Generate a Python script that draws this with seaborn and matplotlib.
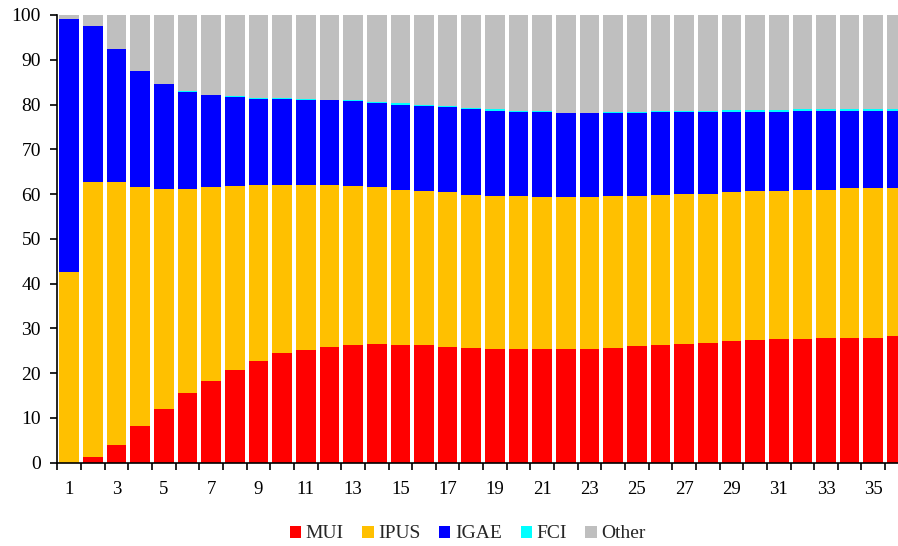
import matplotlib
matplotlib.use("Agg")
import matplotlib.pyplot as plt
from matplotlib.patches import Patch
import seaborn as sns
import pandas as pd

periods = list(range(1, 37))
MUI = [0.0, 1.2, 4.0, 8.1, 11.9, 15.5, 18.3, 20.8, 22.7, 24.4, 25.2, 25.9, 26.2, 26.5, 26.2, 26.2,
       25.9, 25.7, 25.4, 25.4, 25.4, 25.4, 25.4, 25.7, 26.0, 26.2, 26.5, 26.8, 27.1, 27.4, 27.7, 27.7,
       27.9, 27.9, 27.9, 28.2]
IPUS = [42.5, 61.6, 58.8, 53.4, 49.3, 45.7, 43.2, 40.9, 39.3, 37.6, 36.8, 36.1, 35.5, 35.0, 34.8, 34.5,
        34.5, 34.1, 34.2, 34.2, 33.9, 33.9, 33.9, 33.8, 33.6, 33.6, 33.6, 33.3, 33.3, 33.3, 33.0, 33.3,
        33.1, 33.4, 33.4, 33.1]
IGAE = [56.7, 34.8, 29.5, 25.9, 23.4, 21.7, 20.6, 19.9, 19.3, 19.3, 19.1, 18.9, 19.0, 18.9, 19.0, 18.9,
        19.0, 19.3, 19.0, 18.7, 19.0, 18.7, 18.7, 18.6, 18.5, 18.5, 18.2, 18.2, 18.0, 17.7, 17.7, 17.6,
        17.6, 17.3, 17.3, 17.3]
FCI = [0.0, 0.0, 0.0, 0.0, 0.0, 0.05, 0.1, 0.2, 0.2, 0.15, 0.15, 0.2, 0.2, 0.1, 0.3, 0.2,
       0.2, 0.1, 0.3, 0.3, 0.2, 0.2, 0.2, 0.2, 0.2, 0.3, 0.3, 0.3, 0.4, 0.4, 0.4, 0.45,
       0.45, 0.45, 0.45, 0.45]
Other = [0.8, 2.4, 7.7, 12.6, 15.4, 17.0, 17.8, 18.2, 18.5, 18.5, 18.7, 18.9, 19.1, 19.5, 19.7, 20.2,
         20.4, 20.8, 21.1, 21.4, 21.5, 21.8, 21.8, 21.7, 21.7, 21.4, 21.4, 21.4, 21.2, 21.2, 21.2, 21.0,
         21.0, 21.0, 21.0, 21.0]
x_tick_labels = [str(p) for p in range(1, 37, 2)]

series_names = ["MUI", "IPUS", "IGAE", "FCI", "Other"]
series_values = [MUI, IPUS, IGAE, FCI, Other]
colors = ["#FF0000", "#FFC000", "#0000FF", "#00FFFF", "#BFBFBF"]

rows = []
for name, vals in zip(series_names, series_values):
    for p, v in zip(periods, vals):
        rows.append({"period": p, "series": name, "value": v})
df = pd.DataFrame(rows)

sns.set_theme(style="white")
plt.rcParams["font.family"] = ["Liberation Serif", "DejaVu Serif"]

fig = plt.figure(figsize=(8.98, 5.46), dpi=100)
ax = fig.add_axes([0.064, 0.1526, 1.012 - 0.064, 0.82])

# seaborn stacks the first hue level on top, so pass the order reversed
sns.histplot(data=df, x="period", weights="value", hue="series",
             hue_order=series_names[::-1], palette=colors[::-1], multiple="stack",
             discrete=True, shrink=0.83, alpha=1, linewidth=0, legend=False, ax=ax)

ax.set_xlim(0.5, 36.5)
ax.set_ylim(0, 100)
ax.set_yticks(range(0, 101, 10))
ax.set_xticks(list(range(1, 37, 2)))
ax.set_xticklabels(x_tick_labels)
ax.set_xticks([p + 0.5 for p in range(0, 37)], minor=True)
ax.tick_params(axis="x", which="major", length=0, pad=13, labelsize=13.5, colors="black")
ax.tick_params(axis="x", which="minor", length=5, width=1.2, direction="out", color="black", bottom=True)
ax.tick_params(axis="y", which="major", length=5, width=1.2, direction="out", labelsize=14,
               colors="black", left=True, pad=7)
ax.set_xlabel("")
ax.set_ylabel("")
for s in ["top", "right"]:
    ax.spines[s].set_visible(False)
for s in ["left", "bottom"]:
    ax.spines[s].set_color("black")
    ax.spines[s].set_linewidth(1.2)

handles = [Patch(facecolor=c, edgecolor="none", label=n) for n, c in zip(series_names, colors)]
fig.legend(handles=handles, loc="center", bbox_to_anchor=(0.521, 0.022), ncol=5, frameon=False,
           fontsize=14, handlelength=0.57, handleheight=0.57, handletextpad=0.25, columnspacing=0.95)

fig.savefig("out.png", dpi=100)
